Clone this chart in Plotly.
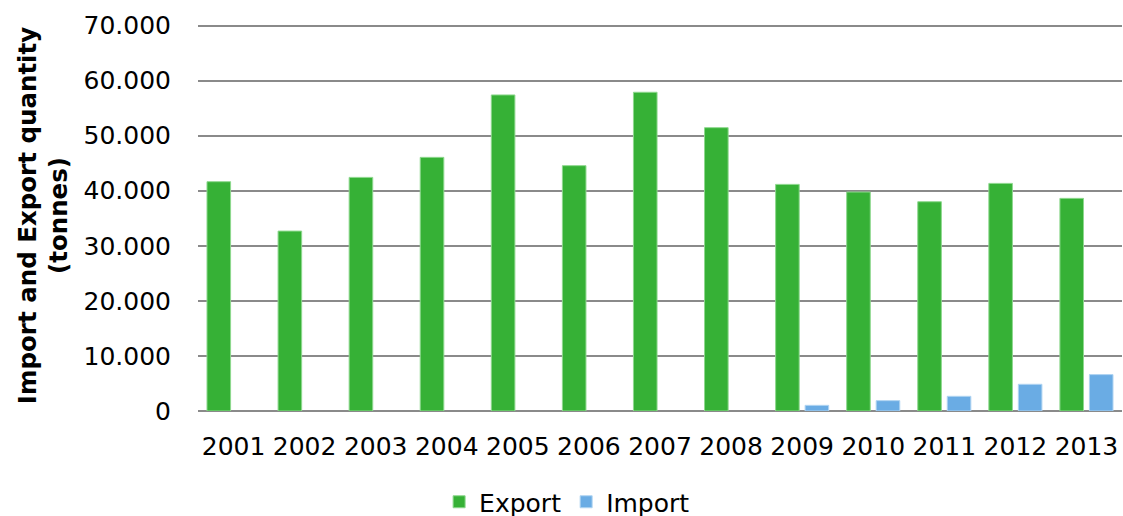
import plotly.graph_objects as go

years = ["2001", "2002", "2003", "2004", "2005", "2006", "2007",
         "2008", "2009", "2010", "2011", "2012", "2013"]
export_vals = [41640, 32670, 42420, 46060, 57390, 44550, 57880,
               51450, 41150, 39760, 38000, 41330, 38610]
import_vals = [None, None, None, None, None, None, None,
               None, 1030, 1880, 2670, 4850, 6610]
y_ticks = [0, 10000, 20000, 30000, 40000, 50000, 60000, 70000]

FONT = "Verdana, DejaVu Sans, sans-serif"

fig = go.Figure()
fig.add_trace(go.Bar(
    x=years, y=export_vals, name="Export",
    marker=dict(color="#36B136", line=dict(color="#8ed88e", width=1)),
))
fig.add_trace(go.Bar(
    x=years, y=import_vals, name="Import",
    marker=dict(color="#6AACE4", line=dict(color="#b0d4f2", width=1)),
))

fig.update_layout(
    width=1123, height=516,
    margin=dict(l=198, r=1, t=20, b=105, autoexpand=False),
    paper_bgcolor="white", plot_bgcolor="white",
    separators=",.",
    barmode="group", bargap=0.17, bargroupgap=0.2,
    font=dict(family=FONT, size=25, color="#000000"),
    showlegend=True,
    legend=dict(orientation="h",
                xref="container", x=0.505, xanchor="center",
                yref="container", y=(516 - 502) / 516, yanchor="middle",
                font=dict(family=FONT, size=25),
                itemwidth=30, traceorder="normal"),
    xaxis=dict(
        showgrid=False, showline=False, zeroline=False,
        ticks="", tickfont=dict(family=FONT, size=25),
        ticklabelstandoff=18,
    ),
    yaxis=dict(
        range=[0, 71000], tickvals=y_ticks, tickformat=",d",
        showgrid=True, gridcolor="#8a8a8a", gridwidth=1.5,
        zeroline=True, zerolinecolor="#8a8a8a", zerolinewidth=1.5,
        showline=False, ticks="",
        tickfont=dict(family=FONT, size=25),
        ticklabelstandoff=26,
        title=dict(
            text="<b>Import and Export quantity<br>(tonnes)</b>",
            font=dict(family=FONT, size=24.5),
            standoff=8,
        ),
    ),
)

fig.write_html("out.html")
